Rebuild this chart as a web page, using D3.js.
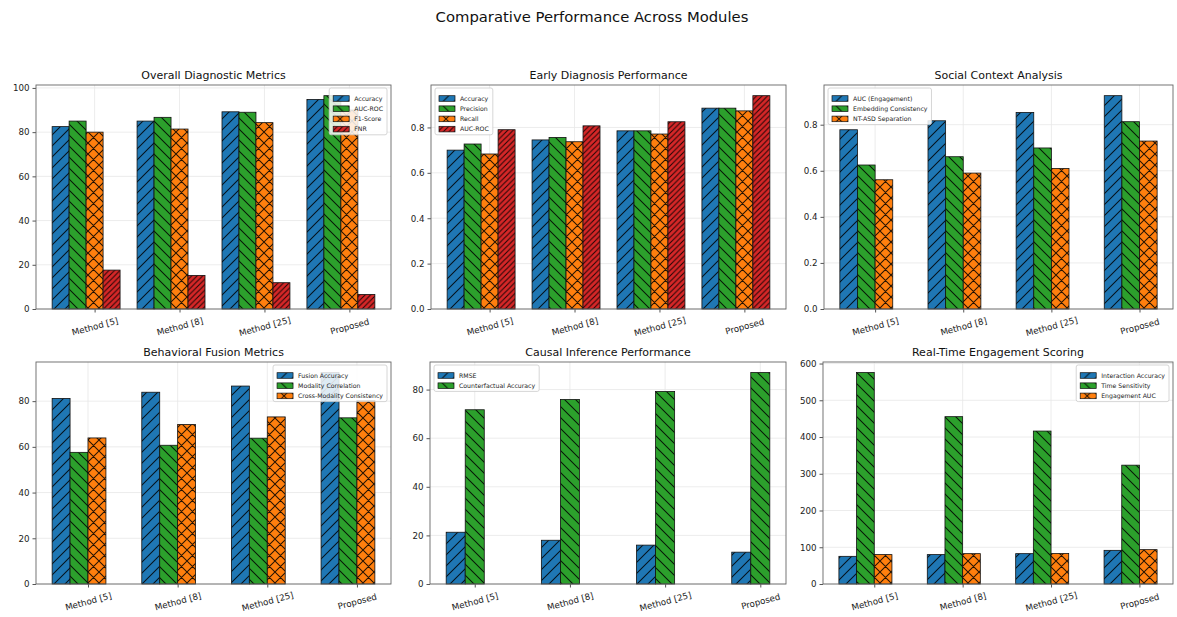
<!DOCTYPE html>
<html>
<head>
<meta charset="utf-8">
<script src="https://cdn.jsdelivr.net/npm/d3@7"></script>
<style>
  html, body { margin: 0; padding: 0; background: #fff; }
  svg { display: block; font-family: "DejaVu Sans", sans-serif; }
</style>
</head>
<body>
<svg id="chart" width="1177" height="617"></svg>
<script>
// Shared categories
const methods = ["Method [5]", "Method [8]", "Method [25]", "Proposed"];

// Overall Diagnostic Metrics
const diagAccuracy = [82.5, 85.0, 89.2, 94.8];
const diagAucRoc   = [85.0, 86.7, 89.0, 96.5];
const diagF1       = [80.0, 81.4, 84.3, 90.0];
const diagFnr      = [17.6, 15.2, 11.9, 6.6];

// Early Diagnosis Performance
const earlyAccuracy  = [0.700, 0.745, 0.785, 0.885];
const earlyPrecision = [0.727, 0.756, 0.785, 0.885];
const earlyRecall    = [0.683, 0.737, 0.771, 0.873];
const earlyAucRoc    = [0.790, 0.807, 0.825, 0.940];

// Social Context Analysis
const socialAuc        = [0.778, 0.817, 0.853, 0.926];
const socialEmbedding  = [0.625, 0.661, 0.699, 0.813];
const socialSeparation = [0.561, 0.590, 0.610, 0.729];

// Behavioral Fusion Metrics
const fusionAccuracy      = [81.2, 83.9, 86.6, 92.5];
const modalityCorrelation = [57.6, 60.7, 63.8, 72.7];
const crossModality       = [63.9, 69.8, 73.1, 80.3];

// Causal Inference Performance
const causalRmse        = [21.3, 18.0, 16.0, 13.1];
const counterfactualAcc = [71.7, 75.9, 79.2, 87.0];

// Real-Time Engagement Scoring
const interactionAcc  = [75.3, 80.0, 82.6, 91.6];
const timeSensitivity = [575.4, 455.4, 416.2, 323.4];
const engagementAuc   = [80.0, 82.6, 83.0, 93.5];

// Y tick labels per panel
const ticksPct   = [0, 20, 40, 60, 80, 100];
const ticksUnit  = [0.0, 0.2, 0.4, 0.6, 0.8];
const ticksPct80 = [0, 20, 40, 60, 80];
const ticksTime  = [0, 100, 200, 300, 400, 500, 600];

// Series styles by position within a panel
const seriesColors  = ["#1f77b4", "#2ca02c", "#ff7f0e", "#d62728"];
const seriesHatches = ["/", "\\", "x", "//"];

const panels = [
  { title: "Overall Diagnostic Metrics", legend: "right",
    names: ["Accuracy", "AUC-ROC", "F1-Score", "FNR"],
    series: [diagAccuracy, diagAucRoc, diagF1, diagFnr],
    ticks: ticksPct, fmt: d3.format("d"),
    box: { left: 36, right: 391, top: 85, bottom: 309 } },
  { title: "Early Diagnosis Performance", legend: "left",
    names: ["Accuracy", "Precision", "Recall", "AUC-ROC"],
    series: [earlyAccuracy, earlyPrecision, earlyRecall, earlyAucRoc],
    ticks: ticksUnit, fmt: d3.format(".1f"),
    box: { left: 431, right: 786, top: 85, bottom: 309 } },
  { title: "Social Context Analysis", legend: "left",
    names: ["AUC (Engagement)", "Embedding Consistency", "NT-ASD Separation"],
    series: [socialAuc, socialEmbedding, socialSeparation],
    ticks: ticksUnit, fmt: d3.format(".1f"),
    box: { left: 824, right: 1173, top: 85, bottom: 309 } },
  { title: "Behavioral Fusion Metrics", legend: "right",
    names: ["Fusion Accuracy", "Modality Correlation", "Cross-Modality Consistency"],
    series: [fusionAccuracy, modalityCorrelation, crossModality],
    ticks: ticksPct80, fmt: d3.format("d"),
    box: { left: 36, right: 391, top: 362, bottom: 584 } },
  { title: "Causal Inference Performance", legend: "left",
    names: ["RMSE", "Counterfactual Accuracy"],
    series: [causalRmse, counterfactualAcc],
    ticks: ticksPct80, fmt: d3.format("d"),
    box: { left: 430, right: 786, top: 362, bottom: 584 } },
  { title: "Real-Time Engagement Scoring", legend: "right",
    names: ["Interaction Accuracy", "Time Sensitivity", "Engagement AUC"],
    series: [interactionAcc, timeSensitivity, engagementAuc],
    ticks: ticksTime, fmt: d3.format("d"),
    box: { left: 823, right: 1173, top: 362, bottom: 584 } }
];

const svg = d3.select("#chart");
const defs = svg.append("defs");

// Hatch fill patterns: one per colour/hatch pair
function hatchPath(h, s) {
  const fwd = `M0,${s} l${s},${-s} M${-s/4},${s/4} l${s/2},${-s/2} M${3*s/4},${5*s/4} l${s/2},${-s/2}`;
  const back = `M0,0 l${s},${s} M${-s/4},${3*s/4} l${s/2},${s/2} M${3*s/4},${-s/4} l${s/2},${s/2}`;
  if (h === "\\") return back;
  if (h === "x") return fwd + " " + back;
  return fwd;
}
seriesColors.forEach((c, i) => {
  const h = seriesHatches[i];
  const s = h === "//" ? 5.5 : 11;
  const p = defs.append("pattern")
    .attr("id", "hatch" + i)
    .attr("patternUnits", "userSpaceOnUse")
    .attr("width", s).attr("height", s);
  p.append("rect").attr("width", s).attr("height", s).attr("fill", c);
  p.append("path").attr("d", hatchPath(h, s))
    .attr("stroke", "#000").attr("stroke-opacity", 0.85)
    .attr("stroke-width", 1.05).attr("fill", "none");
});

// Figure title
svg.append("text")
  .attr("x", 592).attr("y", 22)
  .attr("text-anchor", "middle")
  .attr("font-size", 14.8)
  .attr("fill", "#111")
  .text("Comparative Performance Across Modules");

const barW = 0.2;

panels.forEach(panel => {
  const { left, right, top, bottom } = panel.box;
  const n = panel.series.length;
  const lo = -n / 2 * barW - barW / 2;
  const hi = (methods.length - 1) + (n / 2 - 1) * barW + barW / 2;
  const pad = 0.05 * (hi - lo);
  const x = d3.scaleLinear().domain([lo - pad, hi + pad]).range([left, right]);
  const ymax = d3.max(panel.series.flat()) * 1.05;
  const y = d3.scaleLinear().domain([0, ymax]).range([bottom, top]);

  const g = svg.append("g");

  // grid
  g.append("g").selectAll("line").data(panel.ticks).join("line")
    .attr("x1", left).attr("x2", right)
    .attr("y1", d => y(d)).attr("y2", d => y(d))
    .attr("stroke", "#e7e7e7").attr("stroke-width", 0.8);
  g.append("g").selectAll("line").data(methods).join("line")
    .attr("x1", (d, i) => x(i)).attr("x2", (d, i) => x(i))
    .attr("y1", top).attr("y2", bottom)
    .attr("stroke", "#e7e7e7").attr("stroke-width", 0.8);

  // bars
  panel.series.forEach((vals, j) => {
    g.append("g").selectAll("rect").data(vals).join("rect")
      .attr("x", (d, i) => x(i + (j - n / 2) * barW - barW / 2))
      .attr("width", x(barW) - x(0))
      .attr("y", d => y(d))
      .attr("height", d => y(0) - y(d))
      .attr("fill", `url(#hatch${j})`)
      .attr("stroke", "#111").attr("stroke-width", 0.8);
  });

  // axes
  const yAxis = d3.axisLeft(y).tickValues(panel.ticks).tickFormat(panel.fmt).tickSize(3.5).tickPadding(3);
  const ya = g.append("g").attr("transform", `translate(${left},0)`).call(yAxis);
  ya.select(".domain").remove();
  ya.selectAll("line").attr("stroke", "#555");
  ya.selectAll("text").attr("font-size", 8.7).attr("fill", "#222").attr("font-family", "DejaVu Sans");

  const xAxis = d3.axisBottom(x).tickValues(d3.range(methods.length)).tickFormat(i => methods[i]).tickSize(3.5);
  const xa = g.append("g").attr("transform", `translate(0,${bottom})`).call(xAxis);
  xa.select(".domain").remove();
  xa.selectAll("line").attr("stroke", "#555");
  xa.selectAll("text")
    .attr("font-size", 8.7).attr("fill", "#222").attr("font-family", "DejaVu Sans")
    .attr("text-anchor", "middle")
    .attr("y", 0).attr("dy", 0)
    .attr("transform", "translate(0,18) rotate(-15)")
    .attr("dominant-baseline", "middle");

  // frame
  g.append("rect")
    .attr("x", left).attr("y", top)
    .attr("width", right - left).attr("height", bottom - top)
    .attr("fill", "none").attr("stroke", "#666").attr("stroke-width", 0.9);

  // title
  g.append("text")
    .attr("x", (left + right) / 2).attr("y", top - 6)
    .attr("text-anchor", "middle")
    .attr("font-size", 11).attr("fill", "#111")
    .text(panel.title);

  // legend
  const rowH = 10.2, fs = 6.2;
  const lg = g.append("g");
  const frame = lg.append("rect");
  const items = lg.selectAll("g").data(panel.names).join("g")
    .attr("transform", (d, i) => `translate(0,${5 + 5.5 + i * rowH})`);
  items.append("rect")
    .attr("x", 4).attr("y", -2.8).attr("width", 16).attr("height", 5.6)
    .attr("fill", (d, i) => `url(#hatch${i})`)
    .attr("stroke", "#111").attr("stroke-width", 0.7);
  const labels = items.append("text")
    .attr("x", 25).attr("y", 0).attr("dy", "0.35em")
    .attr("font-size", fs).attr("fill", "#222")
    .text(d => d);
  let tw = 0;
  labels.each(function () { tw = Math.max(tw, this.getComputedTextLength()); });
  const lw = 25 + tw + 4;
  const lh = 5 + panel.names.length * rowH + 1;
  frame.attr("x", 0).attr("y", 0).attr("width", lw).attr("height", lh)
    .attr("rx", 2).attr("fill", "#fff").attr("fill-opacity", 0.85)
    .attr("stroke", "#ccc").attr("stroke-width", 0.8);
  const lx = panel.legend === "right" ? right - 4 - lw : left + 4;
  lg.attr("transform", `translate(${lx},${top + 3})`);
});
</script>
</body>
</html>
